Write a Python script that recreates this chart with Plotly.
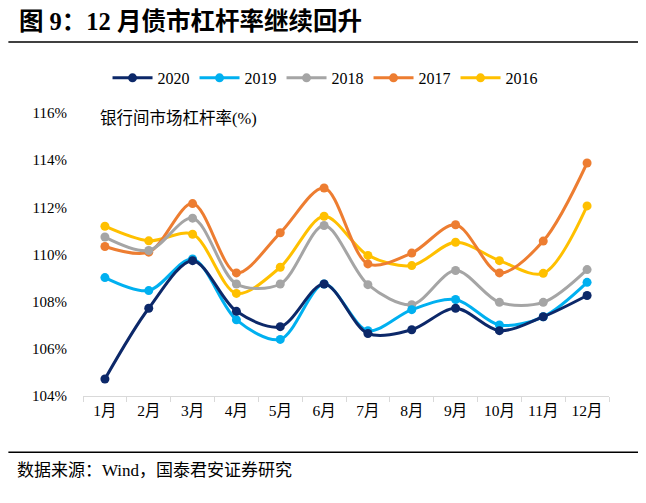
import plotly.graph_objects as go

months = ["1月", "2月", "3月", "4月", "5月", "6月", "7月", "8月", "9月", "10月", "11月", "12月"]
y2020 = [104.72, 107.72, 109.74, 107.59, 106.94, 108.75, 106.65, 106.81, 107.72, 106.77, 107.36, 108.26]
y2019 = [109.02, 108.47, 109.81, 107.23, 106.40, 108.75, 106.77, 107.66, 108.09, 107.01, 107.36, 108.82]
y2018 = [110.74, 110.17, 111.54, 108.75, 108.75, 111.23, 108.72, 107.87, 109.32, 107.97, 107.97, 109.36]
y2017 = [110.34, 110.10, 112.16, 109.22, 110.92, 112.82, 109.60, 110.06, 111.26, 109.22, 110.57, 113.88]
y2016 = [111.20, 110.58, 110.86, 108.35, 109.46, 111.62, 109.96, 109.53, 110.52, 109.74, 109.20, 112.06]
yticks = [104, 106, 108, 110, 112, 114, 116]
ytick_labels = ["104%", "106%", "108%", "110%", "112%", "114%", "116%"]

series = [
    ("2020", y2020, "#0C2869"),
    ("2019", y2019, "#00B0F0"),
    ("2018", y2018, "#A5A5A5"),
    ("2017", y2017, "#ED7D31"),
    ("2016", y2016, "#FFC000"),
]

FONT = "Liberation Serif, Noto Sans CJK SC"

fig = go.Figure()
for name, vals, color in reversed(series):
    fig.add_trace(go.Scatter(
        x=months, y=vals, name=name, mode="lines+markers",
        line=dict(color=color, width=3, shape="spline", smoothing=0.9),
        marker=dict(color=color, size=9),
    ))

OFF = 8  # page body offset
W, H = 646 - OFF, 503 - OFF
L = 82.7 - OFF
R = W - (609.3 - OFF)
T = 113 - OFF
B = H - (395.7 - OFF)
pw, ph = W - L - R, H - T - B

def px(x):
    return (x - OFF - L) / pw

def py(y):
    return (H - B - (y - OFF)) / ph

fig.update_layout(
    width=W, height=H,
    margin=dict(l=L, r=R, t=T, b=B, autoexpand=False),
    paper_bgcolor="white", plot_bgcolor="white",
    font=dict(family=FONT, size=15, color="black"),
    showlegend=True,
    legend=dict(orientation="h", x=px(325), y=py(78), xanchor="center", yanchor="middle",
                traceorder="reversed", font=dict(size=16, family=FONT), itemwidth=40,
                bgcolor="rgba(0,0,0,0)"),
    xaxis=dict(type="category", range=[-0.5, 11.5], showgrid=False, showline=True,
               linecolor="#D9D9D9", linewidth=1, ticks="outside", tickcolor="#D9D9D9",
               ticklen=5, tickson="boundaries", tickfont=dict(size=15.5, family=FONT),
               fixedrange=True),
    yaxis=dict(range=[104, 116], tickvals=yticks, ticktext=ytick_labels, showgrid=False,
               showline=False, zeroline=False, ticks="outside", ticklen=12,
               tickcolor="rgba(0,0,0,0)", tickfont=dict(size=15, family=FONT),
               fixedrange=True),
    annotations=[
        dict(text="<b>图 9：12 月债市杠杆率继续回升</b>", x=px(17), y=py(22), xref="paper", yref="paper",
             xanchor="left", yanchor="middle", showarrow=False,
             font=dict(size=24.5, family=FONT, color="black")),
        dict(text="银行间市场杠杆率(%)", x=px(98), y=py(118), xref="paper", yref="paper",
             xanchor="left", yanchor="middle", showarrow=False,
             font=dict(size=16.5, family=FONT, color="black")),
        dict(text="数据来源：Wind，国泰君安证券研究", x=px(15), y=py(470), xref="paper", yref="paper",
             xanchor="left", yanchor="middle", showarrow=False,
             font=dict(size=17, family=FONT, color="black")),
    ],
    shapes=[
        dict(type="line", xref="paper", yref="paper", x0=px(8), x1=px(641), y0=py(42), y1=py(42),
             line=dict(color="black", width=1.5)),
        dict(type="line", xref="paper", yref="paper", x0=px(8), x1=px(641), y0=py(452), y1=py(452),
             line=dict(color="black", width=1.5)),
    ],
)

fig.write_html("out.html")
